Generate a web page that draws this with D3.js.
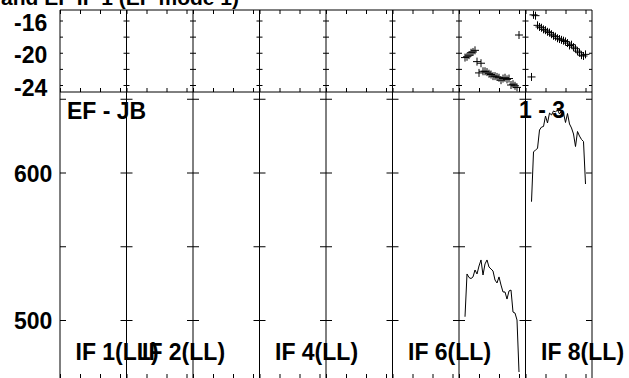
<!DOCTYPE html>
<html><head><meta charset="utf-8">
<script src="https://cdn.jsdelivr.net/npm/d3@7"></script>
<style>
html,body{margin:0;padding:0;background:#fff;overflow:hidden}
svg{display:block}
text{font-family:"Liberation Sans",Arial,sans-serif;font-weight:bold;fill:#000}
</style>
</head><body><svg id="c" width="629" height="378"></svg>
<script>
// ---------------- data ----------------
const title = "and EF IF 1 (EF mode 1)";
const baselineLabel = "EF - JB";
const stokesLabel = "1 - 3";
const panelCount = 8;
const ifLabels = ["IF 1(LL)", "IF 2(LL)", "IF 4(LL)", "IF 6(LL)", "IF 8(LL)"];
const ifLabelPanels = [0, 1, 3, 5, 7];
const channels = [3,4,5,6,7,8,9,10,11,12,13,14,15,16,17,18,19,20,21,22,23,24,25,26,27,28,29,30];
const channelTicks = [0, 10, 20, 30];
const phaseTicks = [-24, -22, -20, -18, -16];
const phaseTickLabels = [-24, -20, -16];
const ampTicks = [500, 550, 600, 650];
const ampTickLabels = [500, 600];

// amplitude per channel (panel 7 and panel 8)
const ampIF7 = [502.2, 531.2, 528.8, 528.1, 529.2, 533.9, 531.2, 536.6, 540.7, 530.5, 538.0, 540.7, 535.9, 534.6,
                533.2, 527.1, 525.1, 529.2, 523.7, 519.0, 519.0, 514.2, 519.7, 520.3, 505.4, 504.7, 500.0, 464.7];
const ampIF8 = [580.2, 613.9, 615.3, 616.3, 628.8, 630.8, 631.2, 638.3, 633.6, 640.3, 639.0, 641.7, 641.0, 642.4,
                639.7, 641.7, 640.3, 633.9, 640.0, 632.9, 630.2, 626.1, 617.6, 627.8, 624.7, 622.4, 621.0, 592.2];
// phase (degrees) per channel
const phaseIF7 = [-20.6, -20.5, -20.3, -20.0, -19.9, -19.7, -21.1, -22.5, -21.3, -22.3, -22.3, -22.4, -22.6, -22.7,
                  -22.9, -22.9, -23.0, -23.1, -23.4, -23.2, -23.1, -23.3, -23.2, -24.0, -23.9, -24.1, -24.3, -17.8];
const phaseIF8 = [-23.0, -15.3, -15.4, -16.6, -16.8, -16.9, -17.1, -17.2, -17.4, -17.5, -17.7, -17.9, -18.0, -18.2,
                  -18.3, -18.4, -18.5, -18.6, -18.8, -19.1, -19.0, -19.3, -19.5, -19.8, -20.0, -20.3, -20.4, -20.2];
const seriesPanels = [6, 7];

// ---------------- layout ----------------
const svg = d3.select("#c");
const X0 = 60, X1 = 592;
const topY0 = 10, topY1 = 92, botY0 = 92, botY1 = 380;
const xPanel = d3.scaleLinear().domain([0, panelCount]).range([X0, X1]);
const xCh = p => d3.scaleLinear().domain([0, 33.25]).range([xPanel(p), xPanel(p + 1)]);
const yPh = d3.scaleLinear().domain([-24, -16]).range([85, 20.5]);
const yAmp = d3.scaleLinear().domain([500, 600]).range([320, 172.5]);

const g = svg.append("g");

// title (cut off at top)
g.append("text").attr("x", 1).attr("y", 5).attr("font-size", 21).text(title);

// frame lines
g.append("line").attr("x1", X0).attr("x2", X1).attr("y1", topY0).attr("y2", topY0).attr("stroke", "#000");
g.append("line").attr("x1", X0).attr("x2", X1).attr("y1", topY1).attr("y2", topY1).attr("stroke", "#000");
g.append("line").attr("x1", X0).attr("x2", X1).attr("y1", botY1).attr("y2", botY1).attr("stroke", "#000");
for (let i = 0; i <= panelCount; i++) {
  g.append("line").attr("x1", xPanel(i)).attr("x2", xPanel(i)).attr("y1", topY0).attr("y2", botY1).attr("stroke", "#000");
}

function clean(sel) { sel.select(".domain").remove(); sel.selectAll(".tick line").attr("stroke", "#000"); sel.selectAll("text").remove(); }

// x ticks per panel
for (let p = 0; p < panelCount; p++) {
  const xs = xCh(p);
  g.append("g").attr("transform", `translate(0,${topY0})`)
    .call(d3.axisBottom(xs).tickValues(channelTicks).tickSize(4)).call(clean);
  g.append("g").attr("transform", `translate(0,${topY1})`)
    .call(d3.axisTop(xs).tickValues(channelTicks).tickSize(4)).call(clean);
  g.append("g").attr("transform", `translate(0,${botY1})`)
    .call(d3.axisTop(xs).tickValues(channelTicks).tickSize(6)).call(clean);
}
// y ticks at panel boundaries
for (let i = 0; i <= panelCount; i++) {
  const x = xPanel(i);
  if (i < panelCount) {
    g.append("g").attr("transform", `translate(${x},0)`).call(d3.axisRight(yPh).tickValues(phaseTicks).tickSize(3)).call(clean);
    g.append("g").attr("transform", `translate(${x},0)`).call(d3.axisRight(yAmp).tickValues(ampTicks).tickSize(6)).call(clean);
  }
  if (i > 0) {
    g.append("g").attr("transform", `translate(${x},0)`).call(d3.axisLeft(yPh).tickValues(phaseTicks).tickSize(3)).call(clean);
    g.append("g").attr("transform", `translate(${x},0)`).call(d3.axisLeft(yAmp).tickValues(ampTicks).tickSize(6)).call(clean);
  }
}

// y tick labels
g.selectAll("text.ph").data(phaseTickLabels).enter().append("text").attr("class", "ph")
  .attr("x", 14).attr("y", d => yPh(d) + 10.5).attr("font-size", 23).text(d => d);
g.selectAll("text.amp").data(ampTickLabels).enter().append("text").attr("class", "amp")
  .attr("x", 14).attr("y", d => yAmp(d) + 9).attr("font-size", 23).text(d => d);

// clip for amplitude panel
svg.append("clipPath").attr("id", "botclip").append("rect")
  .attr("x", X0).attr("y", botY0).attr("width", X1 - X0).attr("height", botY1 - botY0);

// data
const ampSeries = [ampIF7, ampIF8];
const phaseSeries = [phaseIF7, phaseIF8];
seriesPanels.forEach((p, k) => {
  const xs = xCh(p);
  const line = d3.line().x((d, i) => xs(channels[i])).y(d => yAmp(d));
  g.append("path").attr("clip-path", "url(#botclip)").attr("d", line(ampSeries[k]))
    .attr("fill", "none").attr("stroke", "#000").attr("stroke-width", 1);
  g.selectAll(null).data(phaseSeries[k]).enter().append("path")
    .attr("transform", (d, i) => `translate(${xs(channels[i])},${yPh(d)})`)
    .attr("d", "M-4,0H4M0,-4V4").attr("stroke", "#000").attr("stroke-width", 1).attr("fill", "none");
});

// labels
g.append("text").attr("x", 67).attr("y", 119).attr("font-size", 23).text(baselineLabel);
g.append("text").attr("x", 519).attr("y", 118).attr("font-size", 23).text(stokesLabel);
ifLabels.forEach((t, i) => {
  g.append("text").attr("x", xPanel(ifLabelPanels[i]) + 15.5).attr("y", 359.5).attr("font-size", 23).text(t);
});
</script>
</body></html>
